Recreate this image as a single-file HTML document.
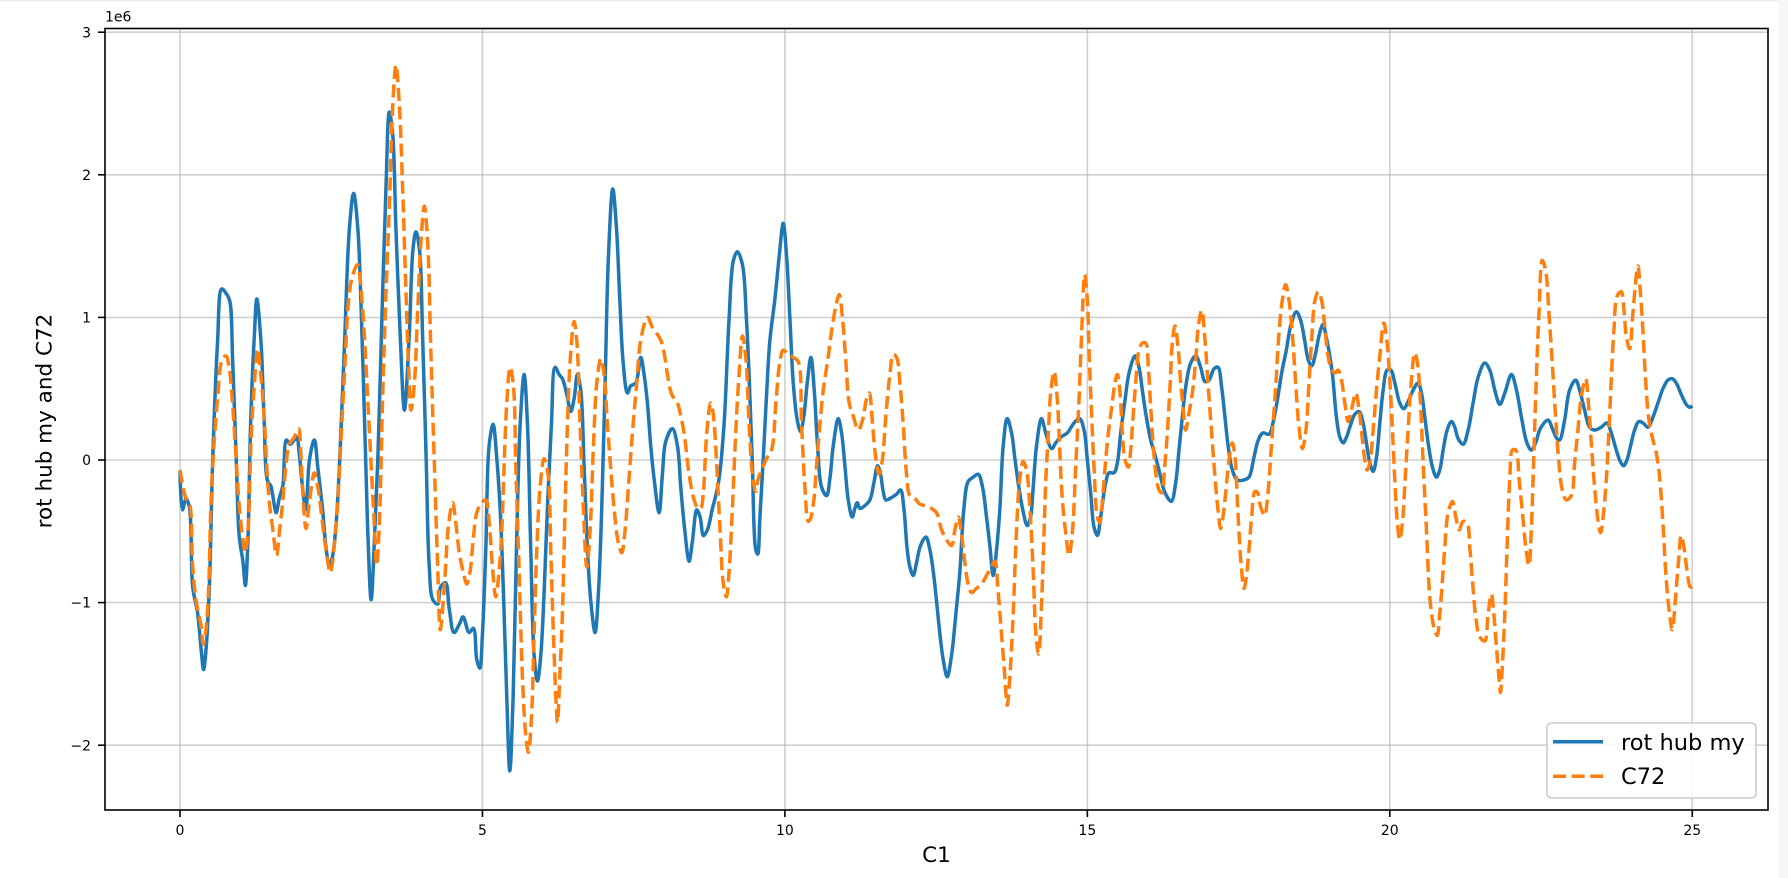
<!DOCTYPE html>
<html>
<head>
<meta charset="utf-8">
<style>
html,body{margin:0;padding:0;background:#fff;}
body{width:1788px;height:878px;overflow:hidden;}
svg{display:block;}
text{font-family:"DejaVu Sans","Liberation Sans",sans-serif;fill:#000;}
.tk{font-size:14px;}
.lab{font-size:21.5px;}
.lg{font-size:22.5px;}
</style>
</head>
<body>
<svg id="chart" width="1788" height="878" viewBox="0 0 1788 878" xmlns="http://www.w3.org/2000/svg">
<rect x="0" y="0" width="1788" height="878" fill="#ffffff"/>
<rect x="0" y="0" width="1788" height="1.5" fill="#ececec"/>
<rect x="1778" y="0" width="10" height="878" fill="#f7f7f7"/>

<!-- grid -->
<g stroke="#b0b0b0" stroke-opacity="0.6" stroke-width="1.6" fill="none">
<line x1="180" y1="28.5" x2="180" y2="810"/>
<line x1="482.45" y1="28.5" x2="482.45" y2="810"/>
<line x1="784.9" y1="28.5" x2="784.9" y2="810"/>
<line x1="1087.35" y1="28.5" x2="1087.35" y2="810"/>
<line x1="1389.8" y1="28.5" x2="1389.8" y2="810"/>
<line x1="1692.25" y1="28.5" x2="1692.25" y2="810"/>
<line x1="105" y1="32.2" x2="1768" y2="32.2"/>
<line x1="105" y1="174.8" x2="1768" y2="174.8"/>
<line x1="105" y1="317.4" x2="1768" y2="317.4"/>
<line x1="105" y1="460" x2="1768" y2="460"/>
<line x1="105" y1="602.6" x2="1768" y2="602.6"/>
<line x1="105" y1="745.2" x2="1768" y2="745.2"/>
</g>

<g id="series">
<polyline id="blue" fill="none" stroke="#1f77b4" stroke-width="3.5" stroke-linejoin="round" vector-effect="non-scaling-stroke" transform="matrix(60.49 0 0 -142.6 180 460)" points="0,-0.08 0.04,-0.35 0.1,-0.27 0.155,-0.33 0.21,-0.89 0.29,-1.07 0.35,-1.33 0.39,-1.47 0.43,-1.33 0.485,-0.89 0.54,-0.01 0.62,0.82 0.69,1.2 0.76,1.17 0.82,1.12 0.87,0.7 0.93,0 0.98,-0.54 1.04,-0.71 1.08,-0.88 1.12,-0.6 1.17,0.29 1.23,0.88 1.27,1.13 1.34,0.82 1.39,0.29 1.45,-0.15 1.5,-0.18 1.53,-0.24 1.59,-0.37 1.64,-0.27 1.7,-0.18 1.76,0.14 1.82,0.11 1.87,0.13 1.93,0.16 1.97,0.05 2.03,-0.21 2.08,-0.35 2.14,0 2.22,0.14 2.28,-0.06 2.36,-0.36 2.41,-0.6 2.47,-0.74 2.52,-0.68 2.58,-0.45 2.64,0 2.72,0.82 2.8,1.62 2.87,1.87 2.94,1.62 2.99,1.12 3.05,0.29 3.1,-0.45 3.16,-0.98 3.21,-0.6 3.27,0 3.35,1.18 3.405,1.91 3.46,2.44 3.515,2.29 3.57,1.62 3.64,0.88 3.71,0.35 3.79,0.88 3.85,1.47 3.9,1.6 3.96,1.47 4.01,0.88 4.07,0 4.12,-0.74 4.18,-0.98 4.26,-1.01 4.31,-0.89 4.39,-0.86 4.45,-1.04 4.53,-1.21 4.62,-1.15 4.68,-1.1 4.78,-1.21 4.851,-1.18 4.906,-1.4 4.956,-1.46 5.0,-1.22 5.055,-0.63 5.11,0.1 5.176,0.25 5.237,0.01 5.292,-0.34 5.347,-0.93 5.402,-1.66 5.452,-2.18 5.507,-1.66 5.562,-0.63 5.623,0.25 5.689,0.6 5.744,0.25 5.799,-0.63 5.854,-1.37 5.909,-1.55 5.964,-1.37 6.019,-0.93 6.074,-0.34 6.14,0.25 6.201,0.65 6.267,0.6 6.322,0.57 6.394,0.46 6.46,0.34 6.515,0.43 6.57,0.6 6.625,0.49 6.68,-0.04 6.736,-0.63 6.791,-0.99 6.862,-1.21 6.917,-0.93 6.972,-0.34 7.028,0.54 7.083,1.43 7.154,1.9 7.215,1.63 7.27,1.13 7.325,0.69 7.397,0.47 7.452,0.52 7.534,0.54 7.617,0.72 7.672,0.6 7.727,0.4 7.782,0.1 7.837,-0.13 7.92,-0.37 7.975,-0.1 8.03,0.13 8.14,0.22 8.223,0.1 8.278,-0.19 8.344,-0.49 8.416,-0.71 8.471,-0.57 8.543,-0.35 8.598,-0.4 8.653,-0.53 8.719,-0.49 8.802,-0.34 8.857,-0.25 8.912,-0.13 8.994,0.25 9.077,0.99 9.149,1.4 9.215,1.46 9.298,1.37 9.364,0.99 9.413,0.54 9.463,-0.04 9.518,-0.63 9.55,-0.66 9.587,-0.4 9.642,0.01 9.697,0.46 9.752,0.84 9.835,1.13 9.906,1.43 9.972,1.66 10.028,1.43 10.083,0.99 10.138,0.54 10.204,0.28 10.259,0.2 10.314,0.31 10.369,0.54 10.43,0.72 10.485,0.49 10.54,0.1 10.606,-0.19 10.689,-0.25 10.744,-0.13 10.799,0.1 10.882,0.29 10.937,0.19 10.992,-0.04 11.047,-0.28 11.113,-0.4 11.157,-0.34 11.196,-0.3 11.24,-0.34 11.322,-0.32 11.405,-0.28 11.471,-0.16 11.532,-0.04 11.581,-0.1 11.625,-0.22 11.669,-0.28 11.736,-0.27 11.846,-0.24 11.912,-0.21 11.967,-0.34 12.022,-0.63 12.066,-0.75 12.121,-0.81 12.176,-0.72 12.242,-0.6 12.331,-0.54 12.397,-0.63 12.452,-0.78 12.507,-0.99 12.562,-1.22 12.617,-1.4 12.683,-1.52 12.755,-1.37 12.826,-1.08 12.893,-0.78 12.959,-0.34 13.03,-0.15 13.113,-0.12 13.196,-0.1 13.267,-0.19 13.333,-0.4 13.388,-0.6 13.444,-0.81 13.499,-0.63 13.554,-0.34 13.609,0.1 13.675,0.29 13.747,0.19 13.802,0.01 13.857,-0.16 13.928,-0.34 14.006,-0.46 14.061,-0.4 14.105,-0.19 14.16,0.1 14.242,0.29 14.311,0.19 14.41,0.08 14.477,0.12 14.559,0.16 14.669,0.19 14.78,0.26 14.873,0.29 14.945,0.21 15.0,0 15.055,-0.23 15.11,-0.47 15.165,-0.53 15.22,-0.4 15.303,-0.16 15.358,-0.09 15.441,-0.09 15.496,-0.02 15.551,0.19 15.623,0.42 15.689,0.61 15.788,0.73 15.854,0.65 15.909,0.49 15.964,0.33 16.047,0.14 16.129,0.02 16.212,-0.12 16.284,-0.23 16.388,-0.29 16.46,-0.16 16.515,0.07 16.57,0.3 16.625,0.51 16.708,0.68 16.791,0.73 16.873,0.65 16.945,0.55 17.011,0.56 17.094,0.64 17.16,0.65 17.22,0.51 17.275,0.3 17.33,0.09 17.397,-0.07 17.479,-0.14 17.59,-0.14 17.672,-0.12 17.755,0.02 17.826,0.14 17.904,0.19 18.003,0.18 18.069,0.26 18.141,0.42 18.212,0.61 18.289,0.77 18.361,0.94 18.455,1.04 18.526,0.98 18.592,0.84 18.653,0.7 18.708,0.66 18.774,0.75 18.829,0.87 18.895,0.95 18.95,0.86 19.0,0.75 19.052,0.6 19.118,0.3 19.174,0.16 19.229,0.12 19.284,0.16 19.339,0.23 19.421,0.32 19.493,0.34 19.559,0.26 19.614,0.12 19.669,-0.02 19.725,-0.08 19.78,0.02 19.835,0.26 19.89,0.49 19.956,0.63 20.017,0.63 20.083,0.54 20.165,0.4 20.231,0.36 20.303,0.41 20.386,0.49 20.468,0.54 20.523,0.47 20.579,0.3 20.634,0.12 20.705,-0.05 20.771,-0.12 20.826,-0.07 20.882,0.07 20.948,0.21 21.019,0.27 21.074,0.23 21.13,0.15 21.212,0.11 21.295,0.21 21.377,0.4 21.46,0.58 21.57,0.68 21.653,0.63 21.736,0.49 21.818,0.39 21.901,0.47 22.011,0.6 22.094,0.49 22.176,0.3 22.267,0.12 22.339,0.07 22.41,0.12 22.488,0.22 22.614,0.28 22.697,0.21 22.763,0.15 22.807,0.14 22.89,0.28 22.972,0.49 23.072,0.56 23.138,0.49 23.22,0.35 23.303,0.23 23.386,0.21 23.496,0.23 23.59,0.26 23.661,0.19 23.744,0.07 23.81,-0.01 23.865,-0.04 23.92,0 23.992,0.12 24.047,0.21 24.118,0.27 24.185,0.26 24.267,0.23 24.35,0.3 24.433,0.4 24.515,0.5 24.598,0.56 24.669,0.57 24.736,0.54 24.818,0.46 24.901,0.39 24.956,0.37 25,0.38"/>
<polyline id="orange" fill="none" stroke="#ff7f0e" stroke-width="3.5" stroke-linejoin="round" stroke-dasharray="13 5.6" vector-effect="non-scaling-stroke" transform="matrix(60.49 0 0 -142.6 180 460)" points="0,-0.07 0.044,-0.18 0.099,-0.27 0.154,-0.3 0.209,-0.74 0.264,-0.98 0.347,-1.16 0.386,-1.29 0.43,-1.19 0.474,-0.89 0.512,-0.3 0.567,0.14 0.623,0.44 0.694,0.7 0.76,0.73 0.815,0.64 0.871,0.38 0.926,0.02 0.981,-0.33 1.036,-0.54 1.08,-0.65 1.13,-0.45 1.174,0.14 1.229,0.53 1.284,0.78 1.339,0.58 1.394,0.29 1.433,-0.04 1.477,-0.3 1.532,-0.48 1.598,-0.67 1.642,-0.51 1.697,-0.3 1.752,-0.04 1.807,0.11 1.89,0.16 1.961,0.22 2.0,0.02 2.028,-0.21 2.083,-0.48 2.138,-0.3 2.22,-0.09 2.275,-0.18 2.358,-0.45 2.413,-0.63 2.485,-0.79 2.551,-0.6 2.606,-0.3 2.661,0.14 2.716,0.58 2.799,1.17 2.865,1.31 2.937,1.37 2.992,1.2 3.047,0.88 3.102,0.44 3.157,-0.01 3.212,-0.45 3.251,-0.74 3.295,-0.45 3.35,0.44 3.405,1.17 3.46,1.76 3.515,2.47 3.57,2.77 3.625,2.5 3.68,1.91 3.736,1.17 3.78,0.64 3.818,0.35 3.873,0.53 3.928,1.03 3.983,1.53 4.039,1.78 4.094,1.53 4.149,0.73 4.204,-0.01 4.259,-0.74 4.303,-1.19 4.369,-0.89 4.441,-0.45 4.507,-0.3 4.562,-0.45 4.617,-0.65 4.69,-0.8 4.741,-0.87 4.796,-0.78 4.851,-0.54 4.906,-0.37 4.972,-0.31 5.055,-0.28 5.11,-0.43 5.165,-0.75 5.22,-0.96 5.275,-0.78 5.32,-0.49 5.358,-0.04 5.402,0.4 5.457,0.65 5.512,0.52 5.551,-0.04 5.606,-0.78 5.661,-1.52 5.716,-1.93 5.76,-2.05 5.81,-1.81 5.854,-1.22 5.898,-0.63 5.953,-0.19 6.019,0.01 6.085,-0.1 6.129,-0.63 6.173,-1.22 6.223,-1.75 6.24,-1.84 6.278,-1.52 6.322,-1.08 6.366,-0.34 6.405,0.25 6.449,0.69 6.515,0.97 6.559,0.84 6.614,0.25 6.669,-0.34 6.725,-0.75 6.78,-0.49 6.835,0.1 6.89,0.54 6.956,0.71 7.011,0.6 7.066,0.25 7.121,-0.06 7.176,-0.34 7.242,-0.57 7.303,-0.65 7.358,-0.49 7.413,-0.19 7.479,0.19 7.551,0.54 7.617,0.84 7.727,1.0 7.81,0.93 7.893,0.88 7.948,0.84 8.003,0.75 8.058,0.6 8.129,0.46 8.223,0.4 8.278,0.31 8.333,0.19 8.416,-0.1 8.499,-0.28 8.565,-0.34 8.609,-0.34 8.653,-0.22 8.708,0.19 8.774,0.4 8.818,0.31 8.873,-0.04 8.928,-0.49 8.983,-0.87 9.033,-0.96 9.077,-0.78 9.132,-0.34 9.187,0.19 9.242,0.6 9.298,0.87 9.353,0.72 9.408,0.25 9.463,-0.1 9.518,-0.22 9.56,-0.13 9.614,-0.07 9.697,0.01 9.78,0.07 9.851,0.4 9.917,0.69 9.972,0.77 10.055,0.74 10.138,0.72 10.22,0.69 10.275,0.25 10.331,-0.19 10.386,-0.43 10.424,-0.41 10.479,-0.28 10.523,-0.04 10.579,0.25 10.634,0.49 10.705,0.69 10.771,0.9 10.843,1.08 10.898,1.16 10.953,0.99 11.008,0.69 11.063,0.4 11.129,0.31 11.212,0.21 11.284,0.28 11.35,0.43 11.394,0.47 11.449,0.25 11.504,0.01 11.559,-0.1 11.614,0.01 11.669,0.31 11.736,0.6 11.791,0.74 11.846,0.72 11.901,0.54 11.956,0.25 12.011,-0.1 12.066,-0.25 12.149,-0.27 12.231,-0.31 12.314,-0.32 12.424,-0.34 12.507,-0.37 12.59,-0.49 12.672,-0.56 12.755,-0.6 12.81,-0.49 12.865,-0.4 12.92,-0.52 12.975,-0.72 13.03,-0.87 13.085,-0.93 13.168,-0.9 13.251,-0.87 13.333,-0.81 13.416,-0.75 13.471,-0.71 13.526,-0.93 13.581,-1.22 13.636,-1.52 13.675,-1.72 13.719,-1.52 13.774,-1.08 13.829,-0.49 13.884,-0.13 13.939,-0.01 13.994,-0.07 14.05,-0.34 14.105,-0.78 14.149,-1.22 14.195,-1.36 14.245,-0.98 14.284,-0.51 14.311,-0.16 14.355,0.19 14.394,0.47 14.449,0.62 14.504,0.42 14.543,0.07 14.587,-0.28 14.642,-0.51 14.697,-0.67 14.752,-0.51 14.807,-0.05 14.862,0.42 14.906,0.89 14.956,1.3 15.0,1.12 15.028,0.77 15.072,0.3 15.11,-0.05 15.165,-0.4 15.204,-0.44 15.259,-0.23 15.303,0 15.347,0.19 15.402,0.37 15.457,0.54 15.496,0.6 15.54,0.47 15.579,0.19 15.623,0 15.678,-0.05 15.717,0.07 15.755,0.3 15.799,0.54 15.854,0.77 15.909,0.82 15.964,0.82 16.008,0.65 16.047,0.37 16.091,0.09 16.14,-0.12 16.185,-0.21 16.229,-0.23 16.278,-0.05 16.322,0.19 16.366,0.51 16.405,0.82 16.449,0.94 16.504,0.77 16.543,0.54 16.581,0.37 16.625,0.21 16.68,0.33 16.736,0.47 16.791,0.7 16.835,0.94 16.89,1.05 16.945,0.84 16.994,0.54 17.055,0.19 17.11,-0.12 17.16,-0.35 17.204,-0.48 17.242,-0.4 17.287,-0.23 17.342,0 17.397,0.12 17.441,0.02 17.479,-0.28 17.507,-0.51 17.545,-0.75 17.59,-0.9 17.628,-0.82 17.672,-0.63 17.716,-0.4 17.771,-0.22 17.815,-0.23 17.865,-0.33 17.931,-0.39 17.975,-0.28 18.019,-0.05 18.058,0.19 18.113,0.51 18.168,0.89 18.223,1.12 18.278,1.23 18.333,1.12 18.388,0.89 18.444,0.54 18.499,0.23 18.554,0.08 18.609,0.19 18.664,0.54 18.708,0.84 18.763,1.12 18.818,1.18 18.873,1.12 18.923,0.94 18.972,0.75 19.025,0.65 19.091,0.61 19.146,0.63 19.201,0.56 19.256,0.4 19.311,0.27 19.366,0.35 19.438,0.47 19.493,0.35 19.548,0.14 19.587,0 19.625,-0.07 19.669,-0.02 19.725,0.21 19.78,0.49 19.835,0.73 19.901,0.96 19.956,0.82 20.0,0.56 20.044,0.21 20.083,-0.14 20.121,-0.42 20.165,-0.56 20.209,-0.44 20.253,-0.14 20.303,0.21 20.347,0.51 20.413,0.75 20.457,0.68 20.507,0.4 20.551,-0.02 20.606,-0.49 20.661,-0.96 20.727,-1.17 20.782,-1.23 20.826,-1.08 20.871,-0.84 20.909,-0.61 20.964,-0.37 21.036,-0.29 21.091,-0.4 21.146,-0.49 21.212,-0.43 21.278,-0.44 21.322,-0.61 21.366,-0.84 21.416,-1.08 21.488,-1.24 21.57,-1.27 21.625,-1.08 21.68,-0.94 21.719,-1.08 21.763,-1.31 21.807,-1.54 21.829,-1.63 21.862,-1.43 21.901,-1.08 21.939,-0.61 21.983,-0.14 22.028,0.07 22.083,0.07 22.138,-0.14 22.193,-0.37 22.248,-0.61 22.3,-0.74 22.339,-0.49 22.377,-0.02 22.421,0.56 22.466,1.03 22.521,1.4 22.576,1.33 22.631,1.03 22.686,0.68 22.741,0.3 22.796,-0.02 22.851,-0.21 22.917,-0.28 23.0,-0.25 23.055,-0.02 23.11,0.21 23.165,0.44 23.237,0.57 23.292,0.35 23.336,0.09 23.386,-0.19 23.441,-0.42 23.485,-0.51 23.534,-0.37 23.579,-0.14 23.623,0.21 23.661,0.56 23.705,0.91 23.76,1.15 23.826,1.18 23.871,1.05 23.909,0.87 23.964,0.78 24.019,1.03 24.074,1.29 24.102,1.36 24.14,1.19 24.185,0.91 24.229,0.56 24.284,0.28 24.35,0.14 24.405,0.05 24.46,-0.12 24.515,-0.44 24.57,-0.84 24.625,-1.08 24.669,-1.19 24.725,-0.96 24.769,-0.73 24.818,-0.53 24.862,-0.61 24.912,-0.77 24.967,-0.89 25,-0.89"/>
</g>

<!-- spines -->
<rect x="105" y="28.5" width="1663" height="781.5" fill="none" stroke="#000" stroke-width="1.6"/>

<!-- ticks -->
<g stroke="#000" stroke-width="1.6">
<line x1="180" y1="810" x2="180" y2="817"/>
<line x1="482.45" y1="810" x2="482.45" y2="817"/>
<line x1="784.9" y1="810" x2="784.9" y2="817"/>
<line x1="1087.35" y1="810" x2="1087.35" y2="817"/>
<line x1="1389.8" y1="810" x2="1389.8" y2="817"/>
<line x1="1692.25" y1="810" x2="1692.25" y2="817"/>
<line x1="98" y1="32.2" x2="105" y2="32.2"/>
<line x1="98" y1="174.8" x2="105" y2="174.8"/>
<line x1="98" y1="317.4" x2="105" y2="317.4"/>
<line x1="98" y1="460" x2="105" y2="460"/>
<line x1="98" y1="602.6" x2="105" y2="602.6"/>
<line x1="98" y1="745.2" x2="105" y2="745.2"/>
</g>

<!-- tick labels -->
<g text-anchor="middle">
<text class="tk" x="180" y="835">0</text>
<text class="tk" x="482.45" y="835">5</text>
<text class="tk" x="784.9" y="835">10</text>
<text class="tk" x="1087.35" y="835">15</text>
<text class="tk" x="1389.8" y="835">20</text>
<text class="tk" x="1692.25" y="835">25</text>
</g>
<g text-anchor="end">
<text class="tk" x="91" y="37.3">3</text>
<text class="tk" x="91" y="179.9">2</text>
<text class="tk" x="91" y="322.5">1</text>
<text class="tk" x="91" y="465.1">0</text>
<text class="tk" x="91" y="607.7">−1</text>
<text class="tk" x="91" y="750.3">−2</text>
</g>
<text class="tk" x="105" y="21.7">1e6</text>

<!-- axis labels -->
<text class="lab" x="936.5" y="862" text-anchor="middle">C1</text>
<text class="lab" text-anchor="middle" transform="translate(51.5,421) rotate(-90)">rot hub my and C72</text>

<!-- legend -->
<rect x="1547" y="723" width="209" height="75" rx="4.4" ry="4.4" fill="#ffffff" fill-opacity="0.8" stroke="#cccccc" stroke-width="1.6"/>
<line x1="1553" y1="741.7" x2="1603" y2="741.7" stroke="#1f77b4" stroke-width="3.5"/>
<line x1="1553" y1="776.3" x2="1603" y2="776.3" stroke="#ff7f0e" stroke-width="3.5" stroke-dasharray="13 5.6"/>
<text class="lg" x="1621" y="750">rot hub my</text>
<text class="lg" x="1621" y="784">C72</text>
</svg>
<script>
(function(){
  var NS="http://www.w3.org/2000/svg";
  function build(id){
    var pl=document.getElementById(id);
    if(!pl) return;
    var nums=pl.getAttribute('points').trim().split(/[\s,]+/).map(Number);
    var P=[];
    for(var i=0;i+1<nums.length;i+=2){P.push([180+60.49*nums[i],460-142.6*nums[i+1]]);}
    var d='M'+P[0][0].toFixed(2)+','+P[0][1].toFixed(2);
    for(var i=0;i<P.length-1;i++){
      var p0=P[i-1]||P[i],p1=P[i],p2=P[i+1],p3=P[i+2]||P[i+1];
      var a1=Math.sqrt(Math.hypot(p1[0]-p0[0],p1[1]-p0[1]));
      var a2=Math.sqrt(Math.hypot(p2[0]-p1[0],p2[1]-p1[1]));
      var a3=Math.sqrt(Math.hypot(p3[0]-p2[0],p3[1]-p2[1]));
      var b1,b2;
      if(a1<1e-6||a2<1e-6){b1=p1;}else{
        var den=3*a1*(a1+a2);
        b1=[(a1*a1*p2[0]-a2*a2*p0[0]+(2*a1*a1+3*a1*a2+a2*a2)*p1[0])/den,
            (a1*a1*p2[1]-a2*a2*p0[1]+(2*a1*a1+3*a1*a2+a2*a2)*p1[1])/den];
      }
      if(a3<1e-6||a2<1e-6){b2=p2;}else{
        var den2=3*a3*(a3+a2);
        b2=[(a3*a3*p1[0]-a2*a2*p3[0]+(2*a3*a3+3*a3*a2+a2*a2)*p2[0])/den2,
            (a3*a3*p1[1]-a2*a2*p3[1]+(2*a3*a3+3*a3*a2+a2*a2)*p2[1])/den2];
      }
      d+=' C'+b1[0].toFixed(2)+','+b1[1].toFixed(2)+' '+b2[0].toFixed(2)+','+b2[1].toFixed(2)+' '+p2[0].toFixed(2)+','+p2[1].toFixed(2);
    }
    var path=document.createElementNS(NS,'path');
    path.setAttribute('d',d);
    path.setAttribute('fill','none');
    path.setAttribute('stroke',pl.getAttribute('stroke'));
    path.setAttribute('stroke-width','3.5');
    path.setAttribute('stroke-linejoin','round');
    var da=pl.getAttribute('stroke-dasharray');
    if(da) path.setAttribute('stroke-dasharray',da);
    pl.parentNode.insertBefore(path,pl);
    pl.parentNode.removeChild(pl);
  }
  try{build('blue');build('orange');}catch(e){}
})();
</script>
</body>
</html>
